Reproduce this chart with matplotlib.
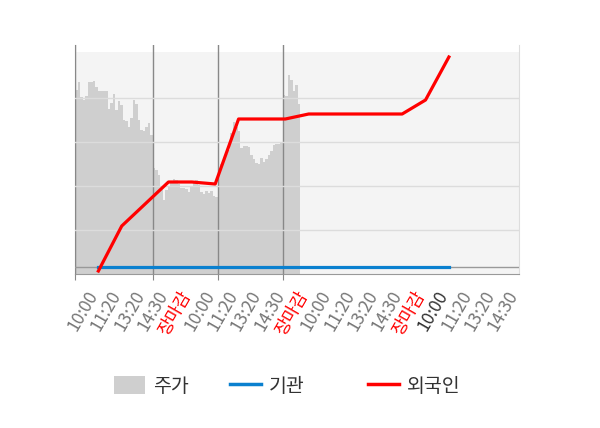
import numpy as np
import matplotlib
matplotlib.use('Agg')
import matplotlib.pyplot as plt
import matplotlib.transforms as mtransforms
from matplotlib.patches import Patch
from matplotlib.lines import Line2D

plt.rcParams['font.family'] = ['Noto Sans CJK KR', 'DejaVu Sans']

# 주가 (가격 흐름, 임의 단위) - 4일치
price = [184, 192, 177, 174, 178, 192, 192, 193, 187, 183, 183, 183, 183, 165, 171, 180,
         164, 173, 169, 154, 153, 147, 156, 174, 170, 154, 144, 143, 147, 151, 139,
         106, 104, 99, 84, 74, 84, 88, 91, 95, 94, 90, 86, 86, 85, 82, 88, 93, 94, 89,
         82, 80, 83, 81, 83, 78, 77,
         104, 110, 115, 120, 124, 141, 152, 147, 143, 126, 128, 128, 127, 119, 115, 111,
         110, 116, 112, 115, 119, 123, 129, 130, 130, 131,
         179, 178, 199, 194, 183, 189, 170]
day_breaks = [0, 31, 57, 83]

# 투자자별 누적 순매수 (임의 단위)
labels = ['10:00', '11:20', '13:20', '14:30', '장마감',
          '10:00', '11:20', '13:20', '14:30', '장마감',
          '10:00', '11:20', '13:20', '14:30', '장마감',
          '10:00', '11:20', '13:20', '14:30']
foreign = [-4, 41, 63, 85, 85, 83, 148, 148, 148, 153, 153, 153, 153, 153, 167, 210]
inst = [0] * 16

legend_names = ['주가', '기관', '외국인']
legend_x = [114, 230, 368]   # 범례 항목 시작 위치(px)

fig = plt.figure(figsize=(6, 4.28), dpi=100)
pos = [75 / 600, 154 / 428, 444 / 600, 229 / 428]

# 주가 영역
ax = fig.add_axes(pos)
ax.set_facecolor('white')
n = len(price)
xs = np.arange(n + 1)
ax.fill_between(xs, price + [price[-1]], 0, step='post', color='#cfcfcf', lw=0, zorder=1)
ax.axhspan(0, 222, color='#f4f4f4', lw=0, zorder=0)
ax.set_xlim(0, 444 / 2.5)
ax.set_ylim(0, 229)
ax.set_yticks([44, 88, 132, 176])
ax.set_xticks(day_breaks)
ax.tick_params(axis='x', length=4, color='#888888', labelbottom=False)
ax.tick_params(axis='y', length=0, labelleft=False)
ax.set_axisbelow(False)
ax.grid(axis='y', color='#dcdcdc', lw=1)
ax.grid(axis='x', color='#888888', lw=1)
ax.spines['top'].set_visible(False)
ax.spines['left'].set_color('#888888')
ax.spines['bottom'].set_color('#999999')
ax.spines['right'].set_color('#dddddd')

# 기관/외국인
ax2 = fig.add_axes(pos)
ax2.patch.set_visible(False)
for s in ax2.spines.values():
    s.set_visible(False)
x = np.arange(len(foreign))
ax2.axhline(0, color='#999999', lw=1, zorder=1)
ax2.plot(x, inst, color='#0a80cf', lw=2.3, zorder=2)
ax2.plot(x, foreign, color='#ff0000', lw=2.3, zorder=3)
ax2.set_xlim(-1, 18)
ax2.set_ylim(-7, 222)
ax2.set_yticks([])
ax2.set_xticks(range(len(labels)))
ax2.set_xticklabels(labels, rotation=60, ha='right', fontsize=12.5)
ax2.tick_params(axis='x', length=0, pad=10)
shift = mtransforms.ScaledTranslation(0.03, 0, fig.dpi_scale_trans)
for i, t in enumerate(ax2.get_xticklabels()):
    t.set_transform(t.get_transform() + shift)
    if labels[i] == '장마감':
        t.set_color('#ff0000')
    elif i == 15:
        t.set_color('#333333')
    else:
        t.set_color('#777777')

handles = [Patch(facecolor='#cfcfcf', edgecolor='none'),
           Line2D([], [], color='#0a80cf', lw=2.5),
           Line2D([], [], color='#ff0000', lw=2.5)]
for h, name, lx in zip(handles, legend_names, legend_x):
    leg = fig.legend([h], [name], loc='center left',
                     bbox_to_anchor=(lx / 600, 42 / 428), frameon=False, fontsize=14,
                     handlelength=1.6, handleheight=1.0, handletextpad=0.41,
                     borderpad=0, borderaxespad=0, labelcolor='#333333')

fig.savefig('out.png', dpi=100)
